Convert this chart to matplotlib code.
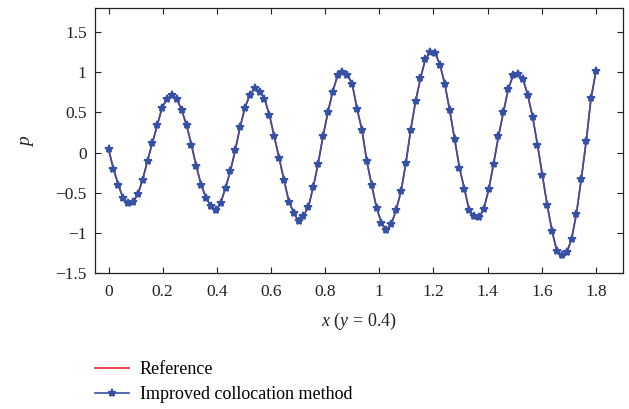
import numpy as np
import matplotlib
matplotlib.use("Agg")
import matplotlib.pyplot as plt

# valores (101 pontos, passo 0.018)
x_pontos = np.round(np.linspace(0, 1.8, 101), 3)

p_colocacao = [
    0.04, -0.20, -0.40, -0.57, -0.63, -0.61, -0.52, -0.34, -0.10, 0.12,
    0.34, 0.56, 0.67, 0.72, 0.67, 0.53, 0.34, 0.10, -0.17, -0.40,
    -0.56, -0.67, -0.72, -0.63, -0.44, -0.23, 0.03, 0.32, 0.56, 0.72,
    0.80, 0.76, 0.67, 0.47, 0.20, -0.07, -0.34, -0.61, -0.75, -0.855,
    -0.785, -0.68, -0.43, -0.14, 0.20, 0.50, 0.76, 0.96, 1.005, 0.97,
    0.85, 0.54, 0.28, -0.11, -0.41, -0.69, -0.875, -0.96, -0.895, -0.715,
    -0.485, -0.135, 0.285, 0.64, 0.925, 1.16, 1.25, 1.24, 1.095, 0.85,
    0.525, 0.17, -0.19, -0.45, -0.72, -0.795, -0.805, -0.70, -0.46, -0.14,
    0.20, 0.50, 0.785, 0.96, 0.975, 0.92, 0.72, 0.445, 0.10, -0.28,
    -0.655, -0.98, -1.23, -1.28, -1.24, -1.075, -0.76, -0.325, 0.14, 0.68,
    1.01,
]

p_referencia = list(p_colocacao)
# a curva de referência desce um pouco mais nos vales
p_referencia[4] = -0.65
p_referencia[5] = -0.63
p_referencia[13] = 0.70
p_referencia[22] = -0.73
p_referencia[39] = -0.87
p_referencia[57] = -0.98
p_referencia[75] = -0.82
p_referencia[76] = -0.83
p_referencia[93] = -1.31
p_referencia[94] = -1.27

x_ticks = [0, 0.2, 0.4, 0.6, 0.8, 1, 1.2, 1.4, 1.6, 1.8]
y_ticks = [-1.5, -1, -0.5, 0, 0.5, 1, 1.5]

plt.rcParams['font.family'] = ['Liberation Serif', 'DejaVu Serif']
plt.rcParams['mathtext.fontset'] = 'custom'
plt.rcParams['mathtext.rm'] = 'Liberation Serif'
plt.rcParams['mathtext.it'] = 'Liberation Serif:italic'

fig = plt.figure(figsize=(6.29, 4.09), dpi=100)
ax = fig.add_axes([0.151, 0.3325, 0.8395, 0.648])

linha_ref, = ax.plot(x_pontos, p_referencia, color='#e8232b', lw=1.2, label='Reference')
linha_col, = ax.plot(x_pontos, p_colocacao, color='#3550a5', lw=1.2, marker='*',
                     markersize=6, markeredgewidth=1.3, label='Improved collocation method')

ax.set_xlim(-0.05, 1.9)
ax.set_ylim(-1.5, 1.8)
ax.set_xticks(x_ticks)
ax.set_xticklabels(['0', '0.2', '0.4', '0.6', '0.8', '1', '1.2', '1.4', '1.6', '1.8'])
ax.set_yticks(y_ticks)
ax.set_yticklabels(['\u22121.5', '\u22121', '\u22120.5', '0', '0.5', '1', '1.5'])
ax.tick_params(direction='in', length=4, width=0.8, top=True, right=True,
               labelsize=12.5, colors='#222222', pad=6)
ax.tick_params(axis='x', pad=8)
for s in ax.spines.values():
    s.set_linewidth(0.9)
    s.set_color('#222222')

ax.set_xlabel(r'$x\ (y\,=\,0.4)$', fontsize=13, color='#222222', labelpad=8)
ax.set_ylabel(r'$p$', fontsize=14, color='#222222', labelpad=14)

leg = fig.legend(handles=[linha_ref, linha_col], loc='upper left',
                 frameon=False, fontsize=13, handlelength=1.9, handletextpad=0.6,
                 labelspacing=0.45, borderaxespad=0)
leg.set_bbox_to_anchor((0.139, 0.135), transform=fig.transFigure)

fig.savefig('out.png', dpi=100)
